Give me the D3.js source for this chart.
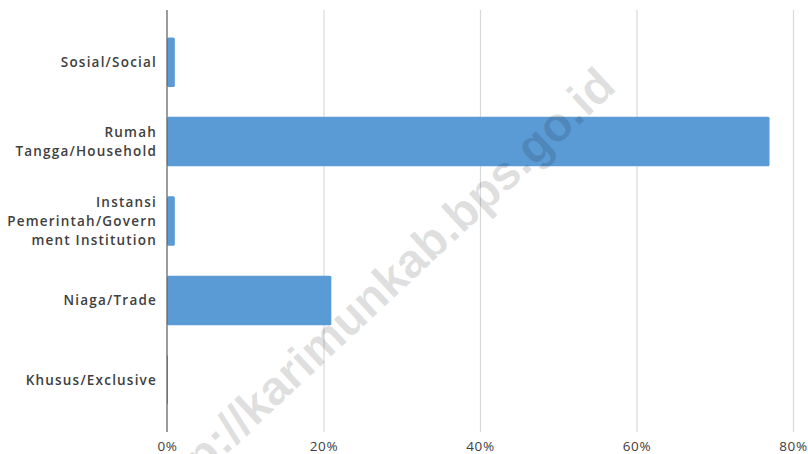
<!DOCTYPE html>
<html>
<head>
<meta charset="utf-8">
<script src="https://cdn.jsdelivr.net/npm/d3@7"></script>
<style>
  body { margin: 0; background: #fff; }
  .cat-label { font-family: "Open Sans", sans-serif; font-weight: 600; font-size: 13.5px; fill: #404040; letter-spacing: 1.2px; }
  .x-axis text { font-family: "Open Sans", sans-serif; font-size: 13.5px; fill: #404040; letter-spacing: 0.6px; }
  .watermark { font-family: "Liberation Sans", Arial, sans-serif; font-weight: bold; font-size: 48px; fill: #000; fill-opacity: 0.13; }
</style>
</head>
<body>
<svg id="chart"></svg>
<script>
// Categories (top to bottom) with their wrapped label lines
const categories = ['Sosial/Social', 'Rumah Tangga/Household', 'Instansi Pemerintah/Government Institution', 'Niaga/Trade', 'Khusus/Exclusive'];
const labelLines = [
  ['Sosial/Social'],
  ['Rumah', 'Tangga/Household'],
  ['Instansi', 'Pemerintah/Govern', 'ment Institution'],
  ['Niaga/Trade'],
  ['Khusus/Exclusive']
];
// Share (%) per category
const values = [1.0, 77.0, 1.0, 21.0, 0.1];
const xTicks = [0, 20, 40, 60, 80];

const width = 808, height = 454;
const margin = {top: 10, right: 15, bottom: 22, left: 167};

const svg = d3.select('#chart')
    .attr('width', width)
    .attr('height', height);

const xScale = d3.scaleLinear()
    .domain([0, 80])
    .range([margin.left, width - margin.right]);

const yScale = d3.scaleBand()
    .domain(categories)
    .range([margin.top, height - margin.bottom])
    .paddingInner(0.377)
    .paddingOuter(0.346);

// Vertical gridlines
svg.append('g')
    .selectAll('line')
    .data(xTicks.filter(d => d > 0))
    .join('line')
    .attr('x1', d => xScale(d) + 0.5)
    .attr('x2', d => xScale(d) + 0.5)
    .attr('y1', margin.top)
    .attr('y2', height - margin.bottom)
    .attr('stroke', '#d9d9d9')
    .attr('stroke-width', 1.2);

// Bars
svg.append('g')
    .selectAll('rect')
    .data(values)
    .join('rect')
    .attr('x', xScale(0))
    .attr('y', (d, i) => yScale(categories[i]))
    .attr('width', d => Math.max(1, xScale(d) - xScale(0)))
    .attr('height', yScale.bandwidth())
    .attr('rx', 1.5)
    .attr('fill', '#5b9bd5');

// Zero axis line
svg.append('line')
    .attr('x1', xScale(0))
    .attr('x2', xScale(0))
    .attr('y1', margin.top)
    .attr('y2', height - margin.bottom)
    .attr('stroke', '#666')
    .attr('stroke-width', 1.3);

// X axis labels
const xAxis = d3.axisBottom(xScale)
    .tickValues(xTicks)
    .tickSize(0)
    .tickPadding(9)
    .tickFormat(d => d + '%');

svg.append('g')
    .attr('class', 'x-axis')
    .attr('transform', `translate(0,${height - margin.bottom})`)
    .call(xAxis)
    .call(g => g.select('.domain').remove());

// Category labels
const lineH = 19;
const labels = svg.append('g')
    .selectAll('text')
    .data(categories)
    .join('text')
    .attr('class', 'cat-label')
    .attr('text-anchor', 'end')
    .attr('x', margin.left - 10)
    .attr('y', d => yScale(d) + yScale.bandwidth() / 2);

labels.each(function(d, i) {
  const lines = labelLines[i];
  const offset = -(lines.length - 1) * lineH / 2;
  d3.select(this).selectAll('tspan')
      .data(lines)
      .join('tspan')
      .attr('x', margin.left - 10)
      .attr('dy', (l, j) => j === 0 ? offset : lineH)
      .attr('dominant-baseline', 'central')
      .text(l => l);
});

// Watermark
svg.append('text')
    .attr('class', 'watermark')
    .attr('text-anchor', 'end')
    .attr('transform', 'translate(618,89) rotate(-43)')
    .text('http://karimunkab.bps.go.id');
</script>
</body>
</html>
